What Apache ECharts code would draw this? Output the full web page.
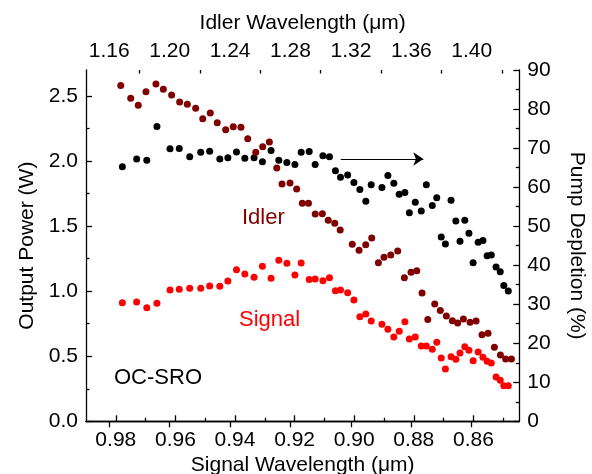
<!DOCTYPE html>
<html><head><meta charset="utf-8">
<script src="https://cdn.jsdelivr.net/npm/echarts@6/dist/echarts.min.js"></script>
<style>html,body{margin:0;padding:0;background:#fff}#c{width:592px;height:474px}</style>
</head><body><div id="c"></div>
<script>
// ---- data ----
const signalWavelength = [
  0.9778, 0.9730, 0.9696, 0.9662, 0.9618, 0.9587, 0.9552, 0.9515, 0.9485, 0.9451,
  0.9424, 0.9395, 0.9367, 0.9336, 0.9308, 0.9279, 0.9253, 0.9226, 0.9199, 0.9178,
  0.9151, 0.9131, 0.9105, 0.9083, 0.9063, 0.9046, 0.9022, 0.9001, 0.8981, 0.8961,
  0.8943, 0.8907, 0.8887, 0.8867, 0.8849, 0.8830, 0.8815, 0.8795, 0.8775, 0.8758,
  0.8738, 0.8723, 0.8708, 0.8694, 0.8675, 0.8659, 0.8645, 0.8629, 0.8615, 0.8601,
  0.8584, 0.8568, 0.8554, 0.8540, 0.8524, 0.8510, 0.8498, 0.8483];
const signalPower = [
  0.912, 0.917, 0.873, 0.907, 1.009, 1.015, 1.022, 1.022, 1.040, 1.038,
  1.078, 1.165, 1.132, 1.107, 1.191, 1.099, 1.238, 1.214, 1.125, 1.217,
  1.090, 1.094, 1.081, 1.104, 1.004, 1.009, 0.988, 0.932, 0.804, 0.825,
  0.771, 0.746, 0.707, 0.648, 0.692, 0.766, 0.633, 0.648, 0.579, 0.579,
  0.553, 0.607, 0.487, 0.402, 0.497, 0.477, 0.525, 0.573, 0.546, 0.466,
  0.533, 0.492, 0.461, 0.448, 0.341, 0.315, 0.274, 0.274];
const pumpDepletion = [
  65.2, 67.2, 66.9, 75.5, 69.8, 69.9, 67.8, 68.9, 69.2, 67.2,
  67.5, 69.0, 67.4, 67.5, 66.5, 69.4, 66.9, 66.3, 65.8, 68.9,
  69.1, 65.8, 68.0, 67.8, 64.2, 62.5, 63.1, 61.2, 59.4, 56.4,
  60.6, 59.9, 63.0, 61.0, 58.2, 58.6, 53.4, 56.1, 53.9, 60.6,
  55.3, 57.3, 47.2, 45.4, 56.6, 51.3, 46.1, 51.5, 48.2, 40.6,
  45.9, 46.3, 42.4, 42.6, 39.5, 38.3, 34.8, 33.4];
const idlerWavelength = [
  1.1676, 1.1742, 1.1792, 1.1843, 1.1909, 1.1958, 1.2013, 1.2066, 1.2117, 1.2172,
  1.2219, 1.2269, 1.2315, 1.2371, 1.2421, 1.2472, 1.2517, 1.2570, 1.2616, 1.2660,
  1.2709, 1.2744, 1.2797, 1.2841, 1.2878, 1.2919, 1.2964, 1.3011, 1.3050, 1.3093,
  1.3129, 1.3209, 1.3254, 1.3298, 1.3338, 1.3382, 1.3419, 1.3464, 1.3510, 1.3554,
  1.3598, 1.3636, 1.3671, 1.3709, 1.3755, 1.3792, 1.3832, 1.3872, 1.3907, 1.3945,
  1.3989, 1.4029, 1.4068, 1.4108, 1.4150, 1.4190, 1.4225, 1.4263];
const idlerPower = [
  2.580, 2.483, 2.429, 2.533, 2.593, 2.552, 2.508, 2.454, 2.437, 2.406,
  2.326, 2.370, 2.295, 2.241, 2.264, 2.260, 2.172, 2.068, 2.111, 2.147,
  1.947, 1.824, 1.832, 1.786, 1.676, 1.676, 1.593, 1.595, 1.546, 1.522,
  1.470, 1.360, 1.314, 1.357, 1.409, 1.219, 1.261, 1.278, 1.309, 1.103,
  1.145, 1.157, 0.986, 0.782, 0.902, 0.852, 0.809, 0.773, 0.756, 0.786,
  0.761, 0.771, 0.666, 0.676, 0.569, 0.510, 0.479, 0.479];

const signalTicks = [0.86, 0.88, 0.90, 0.92, 0.94, 0.96, 0.98];
const signalMinorTicks = [0.85, 0.87, 0.89, 0.91, 0.93, 0.95, 0.97];
const idlerTicks = [1.16, 1.20, 1.24, 1.28, 1.32, 1.36, 1.40];
const idlerMinorTicks = [1.18, 1.22, 1.26, 1.30, 1.34, 1.38, 1.42];
const powerTicks = [0, 0.5, 1.0, 1.5, 2.0, 2.5];
const powerMinorTicks = [0.25, 0.75, 1.25, 1.75, 2.25];
const arrowStart = [0.9045, 67.2];
const arrowEnd = [0.8768, 67.2];

// ---- chart ----
const FONT = 'Liberation Sans';
const TICK_FS = 21;
const NAME_FS = 21;
const LINE = { show: true, lineStyle: { color: '#000', width: 1.3 } };
const noLine = { show: false };
const hideLabel = { show: false };
const noSplit = { show: false };

const sigRange = { min: 0.8446, max: 0.990 };
const idlRange = { min: 1.1446, max: 1.4315 };

function majorTick(vals) { return { show: true, inside: true, length: 6, customValues: vals, lineStyle: { color: '#000', width: 1.3 } }; }
function minorTickAx(vals) { return { show: true, inside: true, length: 3.5, customValues: vals, lineStyle: { color: '#000', width: 1.3 } }; }

const chart = echarts.init(document.getElementById('c'), null, { renderer: 'canvas' });
chart.setOption({
  animation: false,
  textStyle: { fontFamily: FONT },
  grid: { left: 86, right: 72.7, top: 70, bottom: 52.7, containLabel: false, outerBoundsMode: 'none' },
  xAxis: [
    { type: 'value', position: 'bottom', inverse: true, ...sigRange,
      axisLine: LINE, axisTick: majorTick(signalTicks), splitLine: noSplit,
      axisLabel: { customValues: signalTicks, formatter: v => v.toFixed(2), fontSize: TICK_FS, color: '#000', margin: 8, fontFamily: FONT },
      name: 'Signal Wavelength (μm)', nameLocation: 'middle', nameGap: 30,
      nameTextStyle: { fontSize: NAME_FS, color: '#000', fontFamily: FONT } },
    { type: 'value', position: 'bottom', inverse: true, ...sigRange,
      axisLine: noLine, axisTick: minorTickAx(signalMinorTicks), axisLabel: hideLabel, splitLine: noSplit },
    { type: 'value', position: 'top', ...idlRange,
      axisLine: LINE, axisTick: majorTick(idlerTicks), splitLine: noSplit,
      axisLabel: { customValues: idlerTicks, formatter: v => v.toFixed(2), fontSize: TICK_FS, color: '#000', margin: 8, fontFamily: FONT },
      name: 'Idler Wavelength (μm)', nameLocation: 'middle', nameGap: 36,
      nameTextStyle: { fontSize: NAME_FS, color: '#000', fontFamily: FONT } },
    { type: 'value', position: 'top', ...idlRange,
      axisLine: noLine, axisTick: minorTickAx(idlerMinorTicks), axisLabel: hideLabel, splitLine: noSplit }
  ],
  yAxis: [
    { type: 'value', position: 'left', min: 0, max: 2.7,
      axisLine: LINE, axisTick: majorTick(powerTicks), splitLine: noSplit,
      axisLabel: { customValues: powerTicks, formatter: v => v.toFixed(1), fontSize: TICK_FS, color: '#000', margin: 8, fontFamily: FONT },
      name: 'Output Power (W)', nameLocation: 'middle', nameGap: 47,
      nameTextStyle: { fontSize: NAME_FS, color: '#000', fontFamily: FONT } },
    { type: 'value', position: 'left', min: 0, max: 2.7,
      axisLine: noLine, axisTick: minorTickAx(powerMinorTicks), axisLabel: hideLabel, splitLine: noSplit },
    { type: 'value', position: 'right', min: 0, max: 90, interval: 10,
      axisLine: LINE, axisTick: { show: true, inside: true, length: 6, lineStyle: { color: '#000', width: 1.3 } },
      minorTick: { show: true, splitNumber: 2, length: 3.5, lineStyle: { color: '#000', width: 1.3 } },
      splitLine: noSplit, minorSplitLine: { show: false },
      axisLabel: { fontSize: TICK_FS, color: '#000', margin: 8, fontFamily: FONT },
      name: 'Pump Depletion (%)', nameLocation: 'middle', nameGap: 47, nameRotate: -90,
      nameTextStyle: { fontSize: NAME_FS, color: '#000', fontFamily: FONT } }
  ],
  series: [
    { name: 'Pump depletion', type: 'scatter', xAxisIndex: 0, yAxisIndex: 2, symbolSize: 7,
      itemStyle: { color: '#000', opacity: 1 },
      data: signalWavelength.map((x, i) => [x, pumpDepletion[i]]),
      markLine: { silent: true, symbol: ['none', 'arrow'], symbolSize: 10,
        label: { show: false }, lineStyle: { color: '#000', width: 1.2, type: 'solid' },
        emphasis: { disabled: true },
        data: [[{ coord: arrowStart }, { coord: arrowEnd }]] } },
    { name: 'Idler', type: 'scatter', xAxisIndex: 2, yAxisIndex: 0, symbolSize: 7,
      itemStyle: { color: '#800000', opacity: 1 },
      data: idlerWavelength.map((x, i) => [x, idlerPower[i]]) },
    { name: 'Signal', type: 'scatter', xAxisIndex: 0, yAxisIndex: 0, symbolSize: 7,
      itemStyle: { color: '#ff0000', opacity: 1 },
      data: signalWavelength.map((x, i) => [x, signalPower[i]]) }
  ],
  graphic: [
    { type: 'text', x: 242, y: 218, silent: true,
      style: { text: 'Idler', fill: '#800000', fontSize: 22, fontFamily: FONT, align: 'left', verticalAlign: 'middle' } },
    { type: 'text', x: 239, y: 320, silent: true,
      style: { text: 'Signal', fill: '#ff0000', fontSize: 22, fontFamily: FONT, align: 'left', verticalAlign: 'middle' } },
    { type: 'text', x: 114, y: 378, silent: true,
      style: { text: 'OC-SRO', fill: '#000', fontSize: 22, fontFamily: FONT, align: 'left', verticalAlign: 'middle' } }
  ]
});
</script>
</body></html>
